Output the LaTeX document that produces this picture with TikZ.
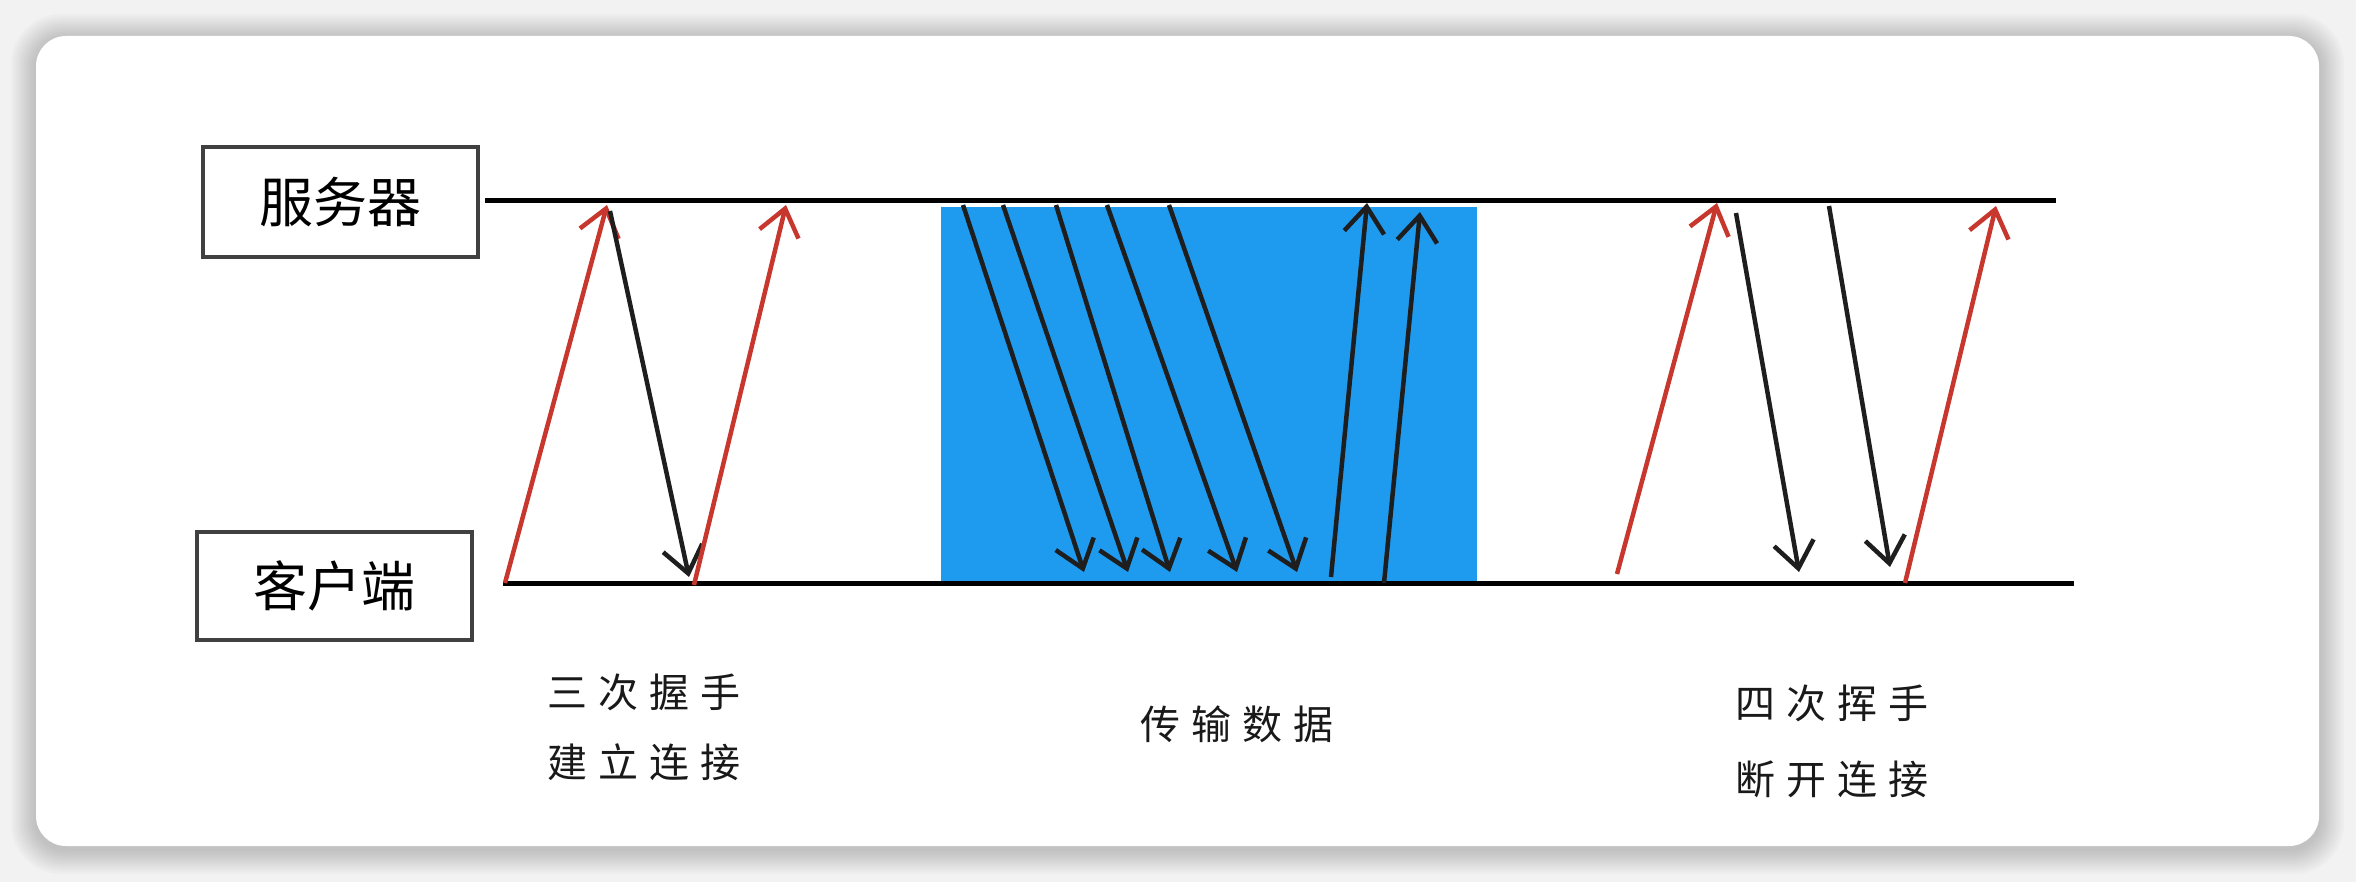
\documentclass[tikz,border=0pt]{standalone}
\usepackage{fontspec}
\newfontfamily\cjk{Noto Sans CJK SC}
\usetikzlibrary{arrows.meta}
\definecolor{bluefill}{RGB}{30,155,239}
\definecolor{redline}{RGB}{200,55,45}
\definecolor{inkline}{RGB}{30,30,30}
\newcommand{\gp}{\hspace{11pt}}
\begin{document}
\begin{tikzpicture}[x=1pt,y=-1pt,
  box/.style={draw=inkline!85, line width=4pt, font=\cjk\fontsize{54}{64}\selectfont, inner sep=0pt},
  lbl/.style={font=\cjk\fontsize{40}{48}\selectfont, inner sep=0pt, text=black!90},
  timeline/.style={line width=5pt, draw=black},
  arr/.style={line width=4.5pt, -{Straight Barb[length=26pt,width=40pt]}},
  redarr/.style={arr, draw=redline},
  blkarr/.style={arr, draw=inkline}
]
\useasboundingbox (0,0) rectangle (2356,882);
\fill[black!5] (0,0) rectangle (2356,882);
\foreach \i in {1,...,10}{
  \fill[black, opacity=0.018, rounded corners=30pt+\i*2pt] (36-\i*2.5,36-\i*2.5+3) rectangle (2319+\i*2.5,846+\i*2.5+3);
}
\fill[white, rounded corners=30pt] (36,36) rectangle (2319,846);

% data transfer area
\fill[bluefill] (941,207) rectangle (1477,581);

% boxes
\node[box, minimum width=275pt, minimum height=110pt] (server) at (340.5,202) {服务器};
\node[box, minimum width=275pt, minimum height=108pt] (client) at (334.5,586) {客户端};

% timelines
\coordinate (sL) at (485,201);
\coordinate (sR) at (2056,201);
\coordinate (cL) at (503,583);
\coordinate (cR) at (2074,583);
\draw[timeline] (sL) -- (sR);
\draw[timeline] (cL) -- (cR);

% handshake
\coordinate (h1a) at (505,583); \coordinate (h1b) at (607,205);
\coordinate (h2a) at (610,211); \coordinate (h2b) at (689,577);
\coordinate (h3a) at (694,585); \coordinate (h3b) at (786,205);
\draw[redarr] (h1a) -- (h1b);
\draw[blkarr] (h2a) -- (h2b);
\draw[redarr] (h3a) -- (h3b);

% data
\foreach \n/\xa/\xb in {1/963/1084, 2/1003/1128, 3/1056/1170, 4/1107/1237, 5/1169/1297}{
  \coordinate (d\n a) at (\xa,205);
  \coordinate (d\n b) at (\xb,572);
  \draw[blkarr] (d\n a) -- (d\n b);
}
\coordinate (u1a) at (1331,577); \coordinate (u1b) at (1367,203);
\coordinate (u2a) at (1384,583); \coordinate (u2b) at (1420,212);
\draw[blkarr] (u1a) -- (u1b);
\draw[blkarr] (u2a) -- (u2b);

% teardown
\coordinate (f1a) at (1617,574); \coordinate (f1b) at (1717,203);
\coordinate (f2a) at (1736,213); \coordinate (f2b) at (1799,572);
\coordinate (f3a) at (1829,206); \coordinate (f3b) at (1890,567);
\coordinate (f4a) at (1905,583); \coordinate (f4b) at (1996,206);
\draw[redarr] (f1a) -- (f1b);
\draw[blkarr] (f2a) -- (f2b);
\draw[blkarr] (f3a) -- (f3b);
\draw[redarr] (f4a) -- (f4b);

% labels
\node[lbl] (t1) at (644,692) {三\gp 次\gp 握\gp 手};
\node[lbl] (t2) at (644,762) {建\gp 立\gp 连\gp 接};
\node[lbl] (t3) at (1237,724) {传\gp 输\gp 数\gp 据};
\node[lbl] (t4) at (1832,703) {四\gp 次\gp 挥\gp 手};
\node[lbl] (t5) at (1832,779) {断\gp 开\gp 连\gp 接};
\end{tikzpicture}
\end{document}
